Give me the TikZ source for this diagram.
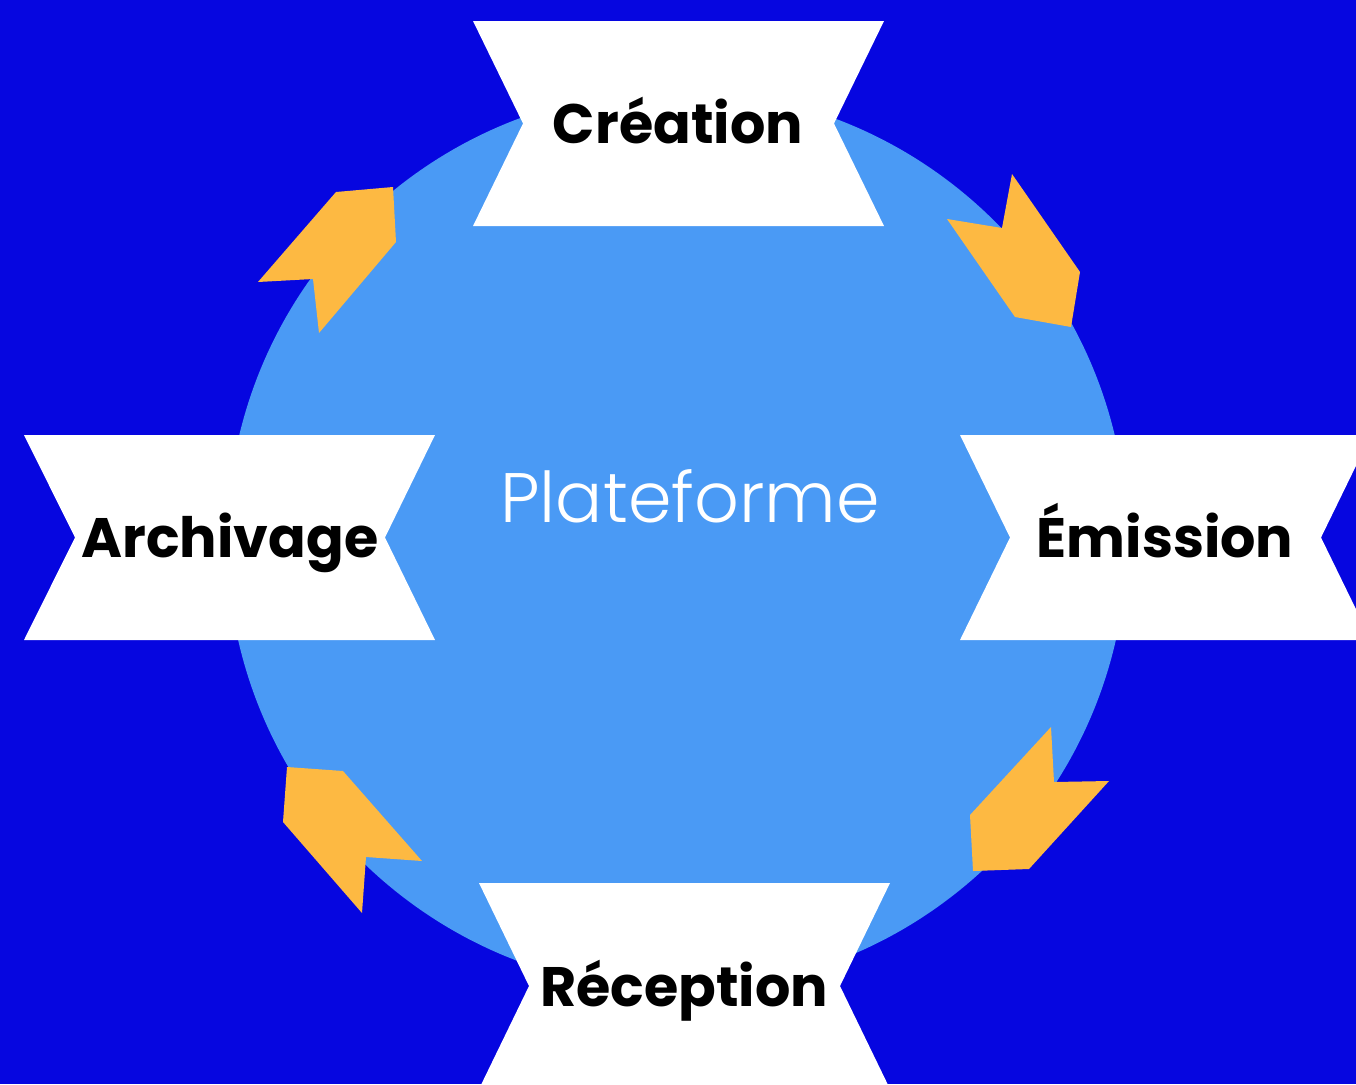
\documentclass[tikz,border=0pt]{standalone}
\usepackage{fontspec}
\setmainfont{Poppins}
\newfontfamily\plight{Poppins}[UprightFont=* Light]
\definecolor{bgblue}{RGB}{6,6,224}
\definecolor{circblue}{RGB}{74,154,245}
\definecolor{arrorange}{RGB}{253,185,66}
\begin{document}
\begin{tikzpicture}[x=1pt,y=-1pt,
  banner/.style={fill=white,draw=none},
  arr/.style={fill=arrorange,draw=none},
  lbl/.style={font=\fontsize{55.6}{58}\selectfont\bfseries,text=black,anchor=base,inner sep=0pt}]
\fill[bgblue] (0,0) rectangle (1356,1084);
\useasboundingbox (0,0) rectangle (1356,1084);
\clip (0,0) rectangle (1356,1084);
\fill[circblue] (677,540) circle[radius=450];
% banners
\path[banner] (473,21) -- (884,21) -- (834,123.5) -- (884,226) -- (473,226) -- (523,123.5) -- cycle;
\path[banner] (24,435) -- (435,435) -- (385,537.5) -- (435,640) -- (24,640) -- (75,537.5) -- cycle;
\path[banner] (960,435) -- (1371,435) -- (1321,537.5) -- (1371,640) -- (960,640) -- (1010,537.5) -- cycle;
\path[banner] (479,883) -- (890,883) -- (840,986) -- (890,1089) -- (479,1089) -- (529,986) -- cycle;
% arrows
\path[arr] (1012,174) -- (1080,272) -- (1071,327) -- (1015,317) -- (947,219) -- (1002,228) -- cycle;
\path[arr] (1051,727) -- (1054,782) -- (1109,781) -- (1029,869) -- (973,871) -- (970,815) -- cycle;
\path[arr] (336,192) -- (393,187) -- (396,242) -- (319,333) -- (313,279) -- (258,282) -- cycle;
\path[arr] (287,767) -- (343,771) -- (422,861) -- (366,857) -- (362,913) -- (283,822) -- cycle;
% labels
\node[lbl] (creation) at (678,143) {Création};
\node[lbl] (archivage) at (230,557) {Archivage};
\node[lbl] (emission) at (1165,557) {Émission};
\node[lbl] (reception) at (684,1006) {Réception};
\node[font=\plight\fontsize{70}{72}\selectfont,text=white,anchor=base,inner sep=0pt] (plateforme) at (690,522) {Plateforme};
\end{tikzpicture}
\end{document}
